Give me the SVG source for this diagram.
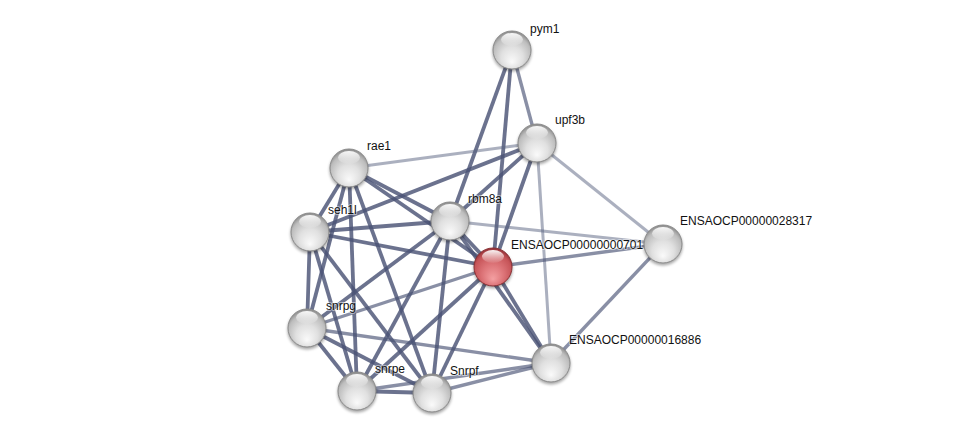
<svg xmlns="http://www.w3.org/2000/svg" width="975" height="438" viewBox="0 0 975 438">
<defs>
<radialGradient id="gg" cx="0.5" cy="0.6" r="0.58" fx="0.5" fy="0.82">
<stop offset="0" stop-color="#fafafa"/>
<stop offset="0.5" stop-color="#e0e0e0"/>
<stop offset="0.85" stop-color="#bdbdbd"/>
<stop offset="1" stop-color="#8f8f8f"/>
</radialGradient>
<radialGradient id="rg" cx="0.5" cy="0.6" r="0.58" fx="0.5" fy="0.82">
<stop offset="0" stop-color="#f4a0a2"/>
<stop offset="0.5" stop-color="#dc7377"/>
<stop offset="0.85" stop-color="#c65458"/>
<stop offset="1" stop-color="#98343a"/>
</radialGradient>
<linearGradient id="hl" x1="0" y1="0" x2="0" y2="1">
<stop offset="0" stop-color="#fff" stop-opacity="0.95"/>
<stop offset="1" stop-color="#fff" stop-opacity="0.05"/>
</linearGradient>
<filter id="sh" x="-50%" y="-50%" width="200%" height="200%">
<feGaussianBlur stdDeviation="1.5"/>
</filter>
<g id="sph">
<circle cx="0" cy="2" r="19.5" fill="#000" opacity="0.35" filter="url(#sh)"/>
<circle cx="0" cy="0" r="19" fill="url(#gg)" stroke="#8c8c8c" stroke-width="1"/>
<ellipse cx="0" cy="-10.5" rx="11" ry="6.5" fill="url(#hl)"/>
</g>
<g id="rsph">
<circle cx="0" cy="2" r="19.5" fill="#000" opacity="0.35" filter="url(#sh)"/>
<circle cx="0" cy="0" r="19" fill="url(#rg)" stroke="#8a3034" stroke-width="1"/>
<ellipse cx="0" cy="-10.5" rx="11" ry="6.5" fill="url(#hl)"/>
</g>
</defs>
<style>
.e{stroke:#4a5375;stroke-width:3.8;stroke-opacity:0.82;fill:none}
.l{stroke:#58617f;stroke-width:3;stroke-opacity:0.5;fill:none}
.m{stroke:#4a5375;stroke-width:3.4;stroke-opacity:0.65;fill:none}
text{font-family:"Liberation Sans",Arial,sans-serif;font-size:12px;fill:#111;paint-order:stroke;stroke:#fff;stroke-width:2;stroke-opacity:0.5;stroke-linejoin:round}
</style>
<rect width="975" height="438" fill="#fff"/>
<g id="edges">
<line class="m" x1="512" y1="50" x2="537" y2="143"/>
<line class="e" x1="512" y1="50" x2="450" y2="221"/>
<line class="e" x1="512" y1="50" x2="493" y2="267"/>
<line class="l" x1="537" y1="143" x2="349" y2="168"/>
<line class="e" x1="537" y1="143" x2="310" y2="232"/>
<line class="e" x1="537" y1="143" x2="450" y2="221"/>
<line class="e" x1="537" y1="143" x2="493" y2="267"/>
<line class="l" x1="537" y1="143" x2="663" y2="244"/>
<line class="l" x1="537" y1="143" x2="551" y2="363"/>
<line class="e" x1="349" y1="168" x2="310" y2="232"/>
<line class="e" x1="349" y1="168" x2="450" y2="221"/>
<line class="e" x1="349" y1="168" x2="493" y2="267"/>
<line class="e" x1="349" y1="168" x2="307" y2="328"/>
<line class="e" x1="349" y1="168" x2="357" y2="391"/>
<line class="e" x1="349" y1="168" x2="432" y2="393"/>
<line class="e" x1="310" y1="232" x2="450" y2="221"/>
<line class="e" x1="310" y1="232" x2="493" y2="267"/>
<line class="e" x1="310" y1="232" x2="307" y2="328"/>
<line class="e" x1="310" y1="232" x2="357" y2="391"/>
<line class="e" x1="310" y1="232" x2="432" y2="393"/>
<line class="e" x1="450" y1="221" x2="493" y2="267"/>
<line class="l" x1="450" y1="221" x2="663" y2="244"/>
<line class="e" x1="450" y1="221" x2="307" y2="328"/>
<line class="e" x1="450" y1="221" x2="357" y2="391"/>
<line class="e" x1="450" y1="221" x2="432" y2="393"/>
<line class="e" x1="450" y1="221" x2="551" y2="363"/>
<line class="m" x1="493" y1="267" x2="663" y2="244"/>
<line class="e" x1="493" y1="267" x2="551" y2="363"/>
<line class="m" x1="493" y1="267" x2="307" y2="328"/>
<line class="e" x1="493" y1="267" x2="357" y2="391"/>
<line class="e" x1="493" y1="267" x2="432" y2="393"/>
<line class="m" x1="663" y1="244" x2="551" y2="363"/>
<line class="e" x1="307" y1="328" x2="357" y2="391"/>
<line class="e" x1="307" y1="328" x2="432" y2="393"/>
<line class="m" x1="307" y1="328" x2="551" y2="363"/>
<line class="e" x1="357" y1="391" x2="432" y2="393"/>
<line class="m" x1="357" y1="391" x2="551" y2="363"/>
<line class="m" x1="432" y1="393" x2="551" y2="363"/>
</g>
<g id="pym1"><use href="#sph" x="512" y="50"/><text x="530" y="33">pym1</text></g>
<g id="upf3b"><use href="#sph" x="537" y="143"/><text x="555" y="124">upf3b</text></g>
<g id="rae1"><use href="#sph" x="349" y="168"/><text x="367" y="150">rae1</text></g>
<g id="seh1l"><use href="#sph" x="310" y="232"/><text x="328" y="214">seh1l</text></g>
<g id="rbm8a"><use href="#sph" x="450" y="221"/><text x="468" y="203">rbm8a</text></g>
<g id="ENSAOCP00000028317"><use href="#sph" x="663" y="244"/><text x="680" y="225">ENSAOCP00000028317</text></g>
<g id="ENSAOCP00000000701"><use href="#rsph" x="493" y="267"/><text x="511" y="249">ENSAOCP00000000701</text></g>
<g id="snrpg"><use href="#sph" x="307" y="328"/><text x="326" y="310">snrpg</text></g>
<g id="snrpe"><use href="#sph" x="357" y="391"/><text x="375" y="373">snrpe</text></g>
<g id="Snrpf"><use href="#sph" x="432" y="393"/><text x="450" y="375">Snrpf</text></g>
<g id="ENSAOCP00000016886"><use href="#sph" x="551" y="363"/><text x="569" y="344">ENSAOCP00000016886</text></g>
</svg>
